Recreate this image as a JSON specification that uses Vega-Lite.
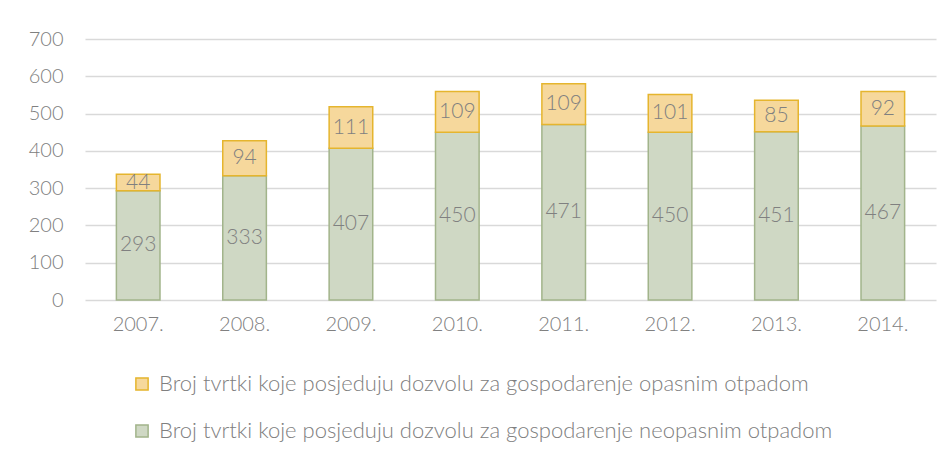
{
  "$schema": "https://vega.github.io/schema/vega-lite/v6.json",
  "autosize": "none",
  "width": 851,
  "height": 261,
  "padding": {"left": 85, "top": 39, "right": 15, "bottom": 157},
  "background": "white",
  "config": {
    "font": "Lato",
    "view": {"stroke": null}
  },
  "data": {
    "values": [
      {"year": "2007.", "series": "Broj tvrtki koje posjeduju dozvolu za gospodarenje neopasnim otpadom", "value": 293},
      {"year": "2008.", "series": "Broj tvrtki koje posjeduju dozvolu za gospodarenje neopasnim otpadom", "value": 333},
      {"year": "2009.", "series": "Broj tvrtki koje posjeduju dozvolu za gospodarenje neopasnim otpadom", "value": 407},
      {"year": "2010.", "series": "Broj tvrtki koje posjeduju dozvolu za gospodarenje neopasnim otpadom", "value": 450},
      {"year": "2011.", "series": "Broj tvrtki koje posjeduju dozvolu za gospodarenje neopasnim otpadom", "value": 471},
      {"year": "2012.", "series": "Broj tvrtki koje posjeduju dozvolu za gospodarenje neopasnim otpadom", "value": 450},
      {"year": "2013.", "series": "Broj tvrtki koje posjeduju dozvolu za gospodarenje neopasnim otpadom", "value": 451},
      {"year": "2014.", "series": "Broj tvrtki koje posjeduju dozvolu za gospodarenje neopasnim otpadom", "value": 467},
      {"year": "2007.", "series": "Broj tvrtki koje posjeduju dozvolu za gospodarenje opasnim otpadom", "value": 44},
      {"year": "2008.", "series": "Broj tvrtki koje posjeduju dozvolu za gospodarenje opasnim otpadom", "value": 94},
      {"year": "2009.", "series": "Broj tvrtki koje posjeduju dozvolu za gospodarenje opasnim otpadom", "value": 111},
      {"year": "2010.", "series": "Broj tvrtki koje posjeduju dozvolu za gospodarenje opasnim otpadom", "value": 109},
      {"year": "2011.", "series": "Broj tvrtki koje posjeduju dozvolu za gospodarenje opasnim otpadom", "value": 109},
      {"year": "2012.", "series": "Broj tvrtki koje posjeduju dozvolu za gospodarenje opasnim otpadom", "value": 101},
      {"year": "2013.", "series": "Broj tvrtki koje posjeduju dozvolu za gospodarenje opasnim otpadom", "value": 85},
      {"year": "2014.", "series": "Broj tvrtki koje posjeduju dozvolu za gospodarenje opasnim otpadom", "value": 92}
    ]
  },
  "transform": [
    {"stack": "value", "groupby": ["year"], "sort": [{"field": "series", "order": "ascending"}], "as": ["v0", "v1"]},
    {"calculate": "(datum.v0 + datum.v1) / 2", "as": "mid"}
  ],
  "encoding": {
    "x": {
      "field": "year", "type": "ordinal",
      "scale": {"paddingInner": 0.59, "paddingOuter": 0.295},
      "axis": {
        "title": null, "labelAngle": 0, "labelFontSize": 20, "labelColor": "#808080",
        "labelPadding": 14, "ticks": false, "domain": false, "labelFont": "Lato", "labelFontWeight": 300
      }
    }
  },
  "layer": [
    {
      "mark": {"type": "bar", "strokeWidth": 1.5},
      "encoding": {
        "y": {
          "field": "v0", "type": "quantitative",
          "scale": {"domain": [0, 700], "nice": false},
          "axis": {
            "title": null, "values": [0, 100, 200, 300, 400, 500, 600, 700], "labelOverlap": false,
            "labelFontSize": 20, "labelColor": "#808080", "labelPadding": 22, "labelFontWeight": 300,
            "ticks": false, "domain": false, "gridColor": "#d9d9d9", "gridWidth": 1.5
          }
        },
        "y2": {"field": "v1"},
        "fill": {
          "field": "series", "type": "nominal",
          "scale": {
            "domain": [
              "Broj tvrtki koje posjeduju dozvolu za gospodarenje opasnim otpadom",
              "Broj tvrtki koje posjeduju dozvolu za gospodarenje neopasnim otpadom"
            ],
            "range": ["#f6d89c", "#cfd8c4"]
          },
          "legend": {
            "title": null, "orient": "none", "legendX": 46, "legendY": 334,
            "direction": "vertical", "symbolType": "square", "symbolSize": 150,
            "symbolStrokeWidth": 1.5, "labelFontSize": 22, "labelColor": "#808080", "labelFontWeight": 300,
            "labelLimit": 900, "rowPadding": 25, "labelOffset": 6
          }
        },
        "stroke": {
          "field": "series", "type": "nominal",
          "scale": {
            "domain": [
              "Broj tvrtki koje posjeduju dozvolu za gospodarenje opasnim otpadom",
              "Broj tvrtki koje posjeduju dozvolu za gospodarenje neopasnim otpadom"
            ],
            "range": ["#e5b52e", "#a2b48b"]
          },
          "legend": {
            "title": null, "orient": "none", "legendX": 46, "legendY": 334,
            "direction": "vertical", "symbolType": "square", "symbolSize": 150,
            "symbolStrokeWidth": 1.5, "labelFontSize": 22, "labelColor": "#808080", "labelFontWeight": 300,
            "labelLimit": 900, "rowPadding": 25, "labelOffset": 6
          }
        }
      }
    },
    {
      "mark": {"type": "text", "fontSize": 21, "color": "#808080", "baseline": "middle", "font": "Lato", "fontWeight": 300},
      "encoding": {
        "y": {
          "field": "mid", "type": "quantitative",
          "axis": {
            "title": null, "values": [0, 100, 200, 300, 400, 500, 600, 700], "labelOverlap": false,
            "labelFontSize": 20, "labelColor": "#808080", "labelPadding": 22, "labelFontWeight": 300,
            "ticks": false, "domain": false, "gridColor": "#d9d9d9", "gridWidth": 1.5
          }
        },
        "text": {"field": "value", "type": "quantitative"}
      }
    }
  ]
}
